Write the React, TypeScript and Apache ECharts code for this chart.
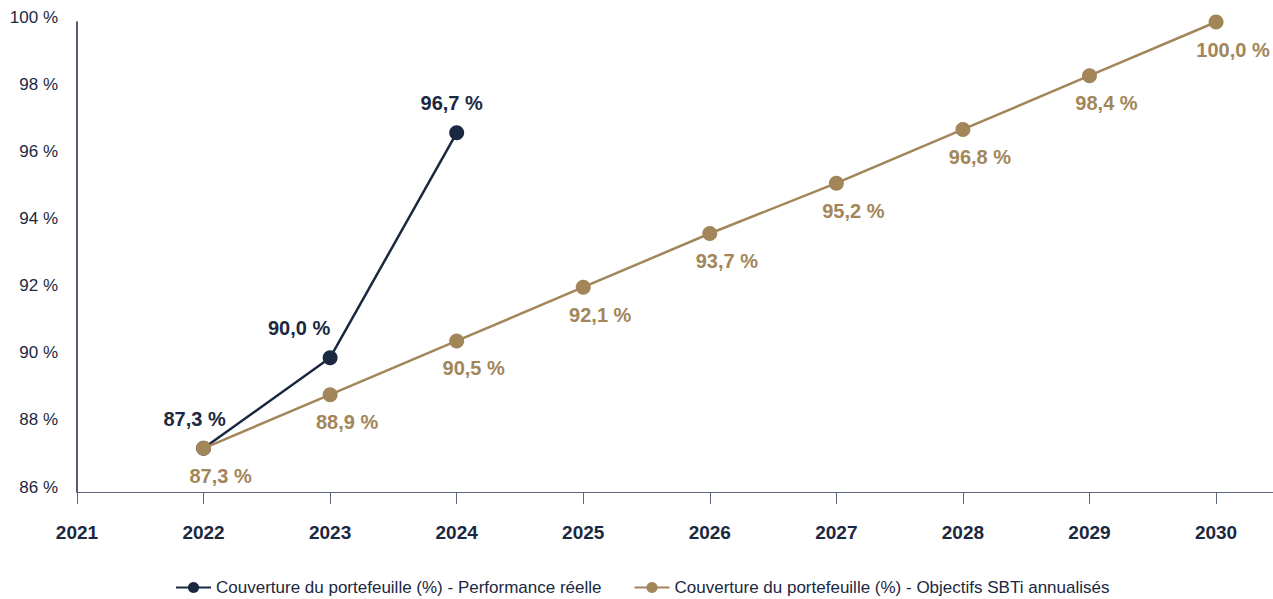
import React, { useEffect, useRef } from "react";
import * as echarts from "echarts";

const years = [2022, 2023, 2024, 2025, 2026, 2027, 2028, 2029, 2030];
const realYears = [2022, 2023, 2024];
const realValues = [87.3, 90.0, 96.7];
const targetValues = [87.3, 88.9, 90.5, 92.1, 93.7, 95.2, 96.8, 98.4, 100.0];
const realName = "Couverture du portefeuille (%) - Performance réelle";
const targetName = "Couverture du portefeuille (%) - Objectifs SBTi annualisés";

const NAVY = "#1b2841";
const GOLD = "#a2865a";
const SANS = "'Liberation Sans', Arial, Helvetica, sans-serif";
// label nudges (style only)
const realLabelOffsets = [[-9, 0], [-31, 0], [-5, 0]];

const fmt = (v: number) => v.toFixed(1).replace(".", ",") + " %";

export default function App() {
  const ref = useRef<HTMLDivElement>(null);
  useEffect(() => {
    document.body.style.margin = "0";
    const chart = echarts.init(ref.current!, null, { renderer: "svg" });
    chart.setOption({
      animation: false,
      grid: { left: 77, right: 0, top: 22, bottom: 107, containLabel: false },
      xAxis: {
        type: "value",
        min: 2021,
        max: 2030.45,
        interval: 1,
        splitLine: { show: false },
        axisLine: { show: true, lineStyle: { color: "#5c6579", width: 1 } },
        axisTick: { show: true, length: 12, lineStyle: { color: "#5c6579" } },
        axisLabel: {
          showMaxLabel: false,
          margin: 31,
          fontFamily: SANS,
          fontWeight: "bold",
          fontSize: 19,
          color: NAVY,
          formatter: (v: number) => (Number.isInteger(v) ? String(v) : ""),
        },
      },
      yAxis: {
        type: "value",
        min: 86,
        max: 100,
        interval: 2,
        splitLine: { show: false },
        axisLine: { show: true, lineStyle: { color: NAVY, width: 1.5 } },
        axisTick: { show: false },
        axisLabel: {
          margin: 19,
          fontFamily: SANS,
          fontSize: 17,
          color: NAVY,
          verticalAlign: "bottom",
          lineHeight: 10,
          formatter: (v: number) => v + " %",
        },
      },
      legend: {
        top: 574,
        left: 170,
        itemWidth: 35,
        itemHeight: 14,
        itemGap: 32,
        textStyle: { fontFamily: SANS, fontSize: 17, color: NAVY },
        data: [realName, targetName],
      },
      series: [
        {
          name: targetName,
          type: "line",
          data: years.map((y, i) => [y, targetValues[i]]),
          symbol: "circle",
          symbolSize: 15,
          itemStyle: { color: GOLD },
          lineStyle: { color: GOLD, width: 2.5 },
          z: 2,
          label: {
            show: true,
            position: "bottom",
            distance: 10,
            offset: [17, 0],
            fontFamily: SANS,
            fontWeight: "bold",
            fontSize: 20,
            color: GOLD,
            formatter: (p: any) => fmt(p.value[1]),
          },
        },
        {
          name: realName,
          type: "line",
          data: realYears.map((y, i) => ({
            value: [y, realValues[i]],
            label: { offset: realLabelOffsets[i] },
          })),
          symbol: "circle",
          symbolSize: 15,
          itemStyle: { color: NAVY },
          lineStyle: { color: NAVY, width: 2.5 },
          z: 1,
          label: {
            show: true,
            position: "top",
            distance: 12,
            fontFamily: SANS,
            fontWeight: "bold",
            fontSize: 20,
            color: NAVY,
            formatter: (p: any) => fmt(p.value[1]),
          },
        },
      ],
    });
    return () => chart.dispose();
  }, []);
  return <div ref={ref} style={{ width: 1273, height: 599 }} />;
}
